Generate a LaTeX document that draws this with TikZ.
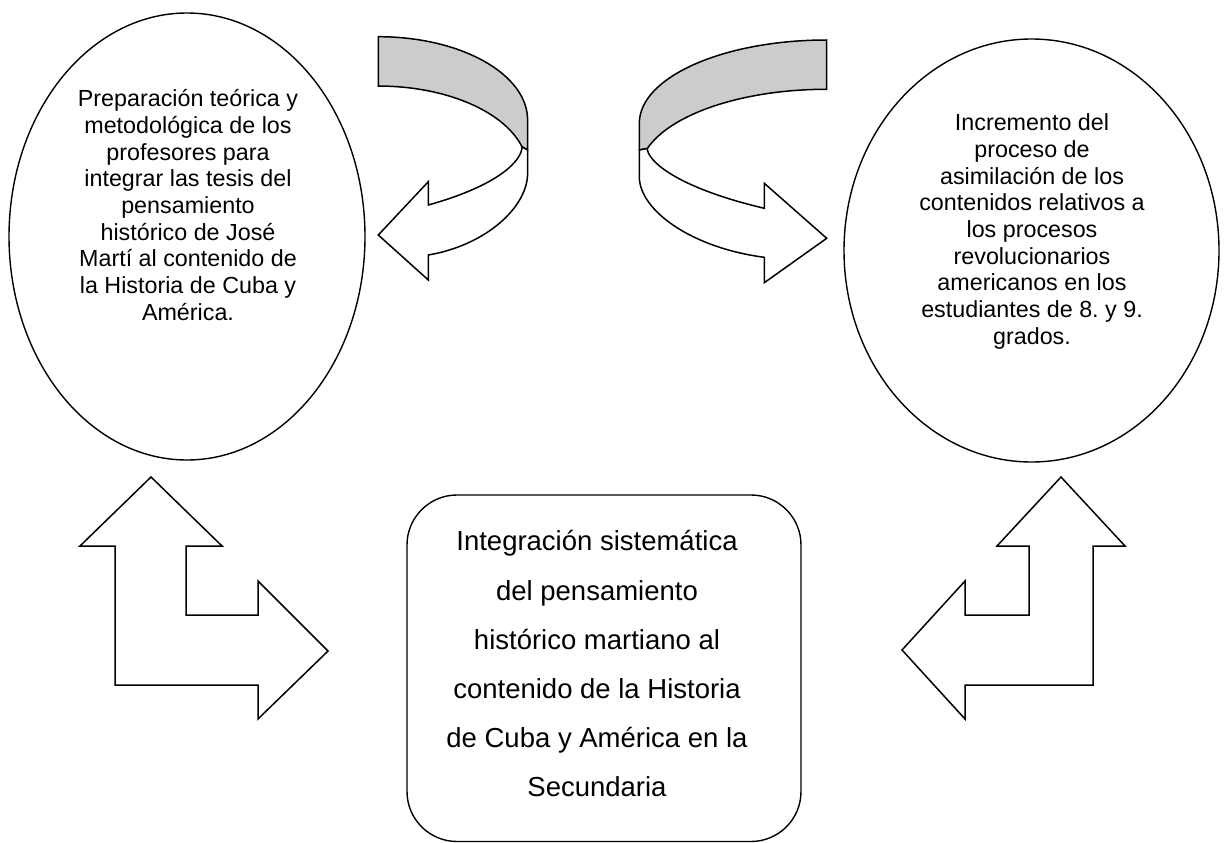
\documentclass[tikz,border=0pt]{standalone}
\usepackage{fontspec}
\setmainfont{Liberation Sans}
\usetikzlibrary{shapes.geometric}
\definecolor{ribbon}{RGB}{204,204,204}
\frenchspacing
\begin{document}
\begin{tikzpicture}[x=1pt,y=-1pt,
  outline/.style={draw=black, line width=1.5pt, line join=miter},
  ell/.style={ellipse, draw=black, line width=1.4pt, inner sep=0pt},
  roundbox/.style={rectangle, draw=black, line width=1.4pt, rounded corners=50pt, inner sep=0pt},
  smalltxt/.style={align=center, inner sep=0pt, font=\fontsize{23.3}{26.67}\selectfont},
  bigtxt/.style={align=center, inner sep=0pt, font=\fontsize{27.5}{49.2}\selectfont}]
\useasboundingbox (0,0) rectangle (1226,843);

% ellipses and box
\node[ell, minimum width=356pt, minimum height=447pt] (lell) at (187,236.5) {};
\node[smalltxt] (ltxt) at (188,205) {Preparación teórica y\\metodológica de los\\profesores para\\integrar las tesis del\\pensamiento\\histórico de José\\Martí al contenido de\\la Historia de Cuba y\\América.};

\node[ell, minimum width=375pt, minimum height=423pt] (rell) at (1031.5,250.5) {};
\node[smalltxt] (rtxt) at (1032,231.6) {Incremento del\\proceso de\\asimilación de los\\contenidos relativos a\\los procesos\\revolucionarios\\americanos en los\\estudiantes de 8. y 9.\\grados.};

\node[roundbox, minimum width=394pt, minimum height=346.5pt] (cbox) at (604,668.25) {};
\node[bigtxt] (ctxt) at (597,664) {Integración sistemática\\del pensamiento\\histórico martiano al\\contenido de la Historia\\de Cuba y América en la\\Secundaria};

% left curved arrow
\fill[ribbon] (378.3,36.7) arc[start angle=-90,end angle=0,x radius=149.3,y radius=83.3]
  -- (527.6,150) -- (522,146.8) arc[start angle=-15.7,end angle=-90,x radius=149.3,y radius=83.3] -- cycle;
\draw[outline] (378.3,36.7) arc[start angle=-90,end angle=0,x radius=149.3,y radius=83.3]
  -- (527.6,150) -- (522,146.8) arc[start angle=-15.7,end angle=-90,x radius=149.3,y radius=83.3] -- cycle;
\draw[outline, fill=white] (522,146.8) .. controls (522,160) and (500,185) .. (428.3,205)
  -- (428.3,181.7) -- (378.3,235) -- (428.3,280) -- (428.3,255)
  .. controls (486.7,245) and (527.6,206.7) .. (527.6,173.3) -- (527.6,150) -- cycle;

% right curved arrow
\fill[ribbon] (826.7,40) arc[start angle=-90,end angle=-180,x radius=187.4,y radius=83.3]
  -- (639.3,150) -- (647.3,148.5) arc[start angle=-163.2,end angle=-90,x radius=187.4,y radius=83.3] -- cycle;
\draw[outline] (826.7,40) arc[start angle=-90,end angle=-180,x radius=187.4,y radius=83.3]
  -- (639.3,150) -- (647.3,148.5) arc[start angle=-163.2,end angle=-90,x radius=187.4,y radius=83.3] -- cycle;
\draw[outline, fill=white] (647.3,148.5) .. controls (647.3,160) and (674.3,187) .. (764.3,208.3)
  -- (764.3,183.3) -- (826.7,238.3) -- (764.3,282.7) -- (764.3,257.3)
  .. controls (690.9,247.7) and (639.3,210) .. (639.3,176.7) -- (639.3,150) -- cycle;

% left bent arrow
\draw[outline, fill=white] (151,477) -- (222,546) -- (186,546) -- (186,615) -- (258,615) -- (258,581)
  -- (328,651) -- (258,719) -- (258,685) -- (115,685) -- (115,546) -- (80,546) -- cycle;

% right bent arrow
\draw[outline, fill=white] (1061,477) -- (1125,546) -- (1093,546) -- (1093,685) -- (965,685) -- (965,719)
  -- (902,650) -- (965,581) -- (965,615) -- (1029,615) -- (1029,546) -- (997,546) -- cycle;
\end{tikzpicture}
\end{document}
